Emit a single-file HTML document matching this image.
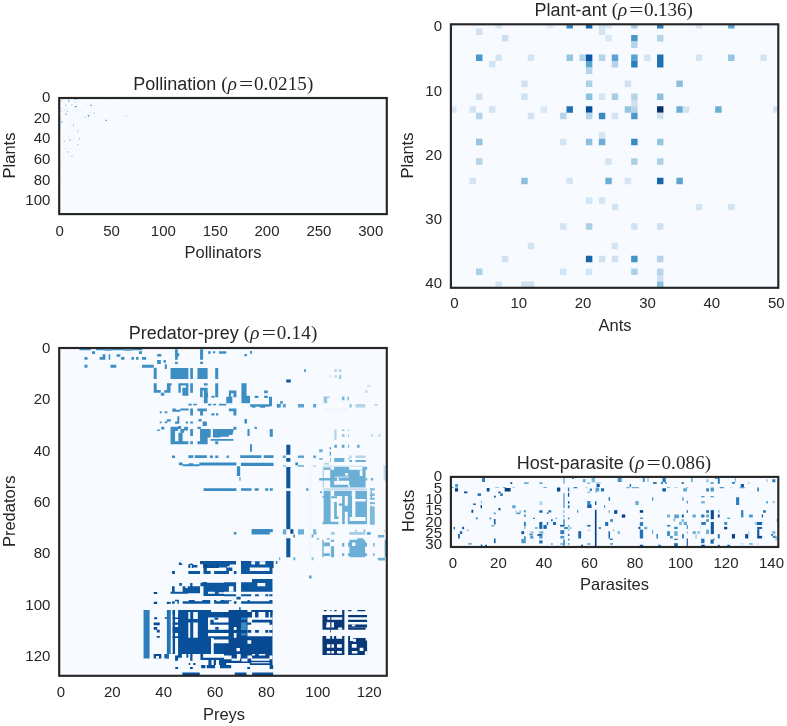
<!DOCTYPE html>
<html><head><meta charset="utf-8"><title>Network matrices</title>
<style>
html,body{margin:0;padding:0;background:#ffffff;}
body{width:787px;height:726px;overflow:hidden;}
svg{display:block;}
text{font-family:"Liberation Sans",sans-serif;fill:#262626;}
</style></head><body>
<svg width="787" height="726" viewBox="0 0 787 726">
<rect width="787" height="726" fill="#ffffff"/>
<clipPath id="cp1"><rect x="59.2" y="98.0" width="327.60" height="116.10"/></clipPath>
<rect x="59.2" y="98.0" width="327.60" height="116.10" fill="#f7fbff"/>
<g clip-path="url(#cp1)" shape-rendering="auto">
<path fill="#4a97c9" d="M67.95 100.13h1.42v1.42h-1.42z"/>
<path fill="#66aad4" d="M74.63 99.00h1.78v0.85h-1.78z"/>
<path fill="#99c7e0" d="M60.49 100.13h1.28v1.42h-1.28z"/>
<path fill="#4a97c9" d="M74.67 105.93h1.99v1.42h-1.99zM90.31 104.84h1.42v1.07h-1.42z"/>
<path fill="#a8cee4" d="M71.25 103.94h1.21v1.64h-1.21z"/>
<path fill="#88bedc" d="M65.37 104.81h1.28v0.93h-1.28z"/>
<path fill="#76b4d8" d="M66.85 110.94h1.07v1.07h-1.07z"/>
<path fill="#99c7e0" d="M61.01 110.94h0.85v1.07h-0.85z"/>
<path fill="#c3daee" d="M63.80 109.49h1.07v1.42h-1.07z"/>
<path fill="#58a1ce" d="M65.20 113.52h1.42v1.28h-1.42z"/>
<path fill="#4a97c9" d="M87.77 115.08h1.42v1.42h-1.42z"/>
<path fill="#a8cee4" d="M84.69 117.00h1.28v0.93h-1.28z"/>
<path fill="#c3daee" d="M93.40 112.33h1.64v1.42h-1.64z"/>
<path fill="#ddeaf7" d="M89.55 112.29h1.21v1.21h-1.21z"/>
<path fill="#4a97c9" d="M105.56 119.79h1.42v1.14h-1.42z"/>
<path fill="#58a1ce" d="M60.83 121.18h1.42v1.42h-1.42z"/>
<path fill="#4a97c9" d="M59.66 118.13h0.71v1.42h-0.71z"/>
<path fill="#66aad4" d="M59.66 107.45h0.71v1.42h-0.71z"/>
<path fill="#88bedc" d="M59.66 127.20h0.71v1.07h-0.71z"/>
<path fill="#66aad4" d="M72.95 124.49h1.07v1.21h-1.07z"/>
<path fill="#cddff1" d="M69.70 124.49h1.07v1.21h-1.07z"/>
<path fill="#c3daee" d="M77.31 129.26h1.00v3.56h-1.00zM125.35 115.35h1.28v1.28h-1.28z"/>
<path fill="#d5e5f4" d="M119.28 104.81h1.42v0.93h-1.42z"/>
<path fill="#ddeaf7" d="M129.01 120.01h1.78v0.71h-1.78z"/>
<path fill="#88bedc" d="M69.47 139.43h1.42v1.21h-1.42zM79.05 137.92h1.07v1.28h-1.07zM63.54 141.10h1.28v0.93h-1.28z"/>
<path fill="#99c7e0" d="M77.31 144.02h1.00v1.28h-1.00z"/>
<path fill="#d5e5f4" d="M68.16 135.95h1.00v1.57h-1.00z"/>
<path fill="#88bedc" d="M71.25 155.92h1.21v0.85h-1.21z"/>
<path fill="#c3daee" d="M67.23 151.60h1.42v1.07h-1.42z"/>
<path fill="#d5e5f4" d="M65.20 148.08h1.42v1.28h-1.42z"/>
<path fill="#c3daee" d="M77.53 100.48h1.07v1.14h-1.07zM74.52 102.05h1.28v0.85h-1.28z"/>
<path fill="#ddeaf7" d="M86.50 103.53h1.21v1.14h-1.21z"/>
<path fill="#e6f0f9" d="M95.82 103.53h1.07v1.14h-1.07zM115.14 103.53h1.07v1.14h-1.07z"/>
<path fill="#ddeaf7" d="M80.58 109.41h1.07v1.07h-1.07zM77.53 110.94h1.07v1.07h-1.07z"/>
<path fill="#e2eef8" d="M83.63 106.36h1.07v1.07h-1.07zM104.03 109.46h1.42v1.28h-1.42zM107.51 107.86h1.07v0.93h-1.07zM84.69 128.77h1.28v1.28h-1.28zM63.80 130.54h1.07v1.00h-1.07z"/>
<path fill="#e6f0f9" d="M69.39 113.65h1.07v0.93h-1.07z"/>
<path fill="#e2eef8" d="M114.71 125.85h1.42v0.93h-1.42zM131.40 134.82h1.07v1.07h-1.07z"/>
<path fill="#e6f0f9" d="M104.00 138.05h1.28v0.93h-1.28z"/>
<path fill="#e9f2fb" d="M89.25 145.50h1.21v1.07h-1.21zM97.93 145.50h1.42v1.07h-1.42z"/>
<path fill="#e6f0f9" d="M72.95 146.98h1.07v0.85h-1.07z"/>
<path fill="#e2eef8" d="M65.33 107.86h1.07v0.93h-1.07zM67.32 118.56h0.85v1.07h-0.85z"/>
<path fill="#a8cee4" d="M66.97 151.26h1.14v1.14h-1.14zM71.44 155.94h1.14v1.14h-1.14z"/>
<path fill="#c3daee" d="M61.22 163.46h0.85v1.14h-0.85z"/>
<path fill="#ddeaf7" d="M84.66 162.04h1.14v1.14h-1.14zM146.26 157.36h1.14v1.14h-1.14zM165.98 166.51h1.14v1.14h-1.14z"/>
<path fill="#e2eef8" d="M117.80 170.98h1.14v1.14h-1.14z"/>
<path fill="#ddeaf7" d="M61.22 181.70h0.85v0.85h-0.85z"/>
<path fill="#e2eef8" d="M71.44 160.82h1.14v1.14h-1.14zM63.72 157.56h1.14v1.14h-1.14z"/>
<path fill="#d5e5f4" d="M159.81 100.36h1.07v1.07h-1.07z"/>
<path fill="#ddeaf7" d="M149.60 107.68h1.07v1.07h-1.07zM145.02 133.60h1.07v1.07h-1.07z"/>
<path fill="#e6f0f9" d="M182.68 147.02h1.07v1.07h-1.07z"/>
<path fill="#e2eef8" d="M146.55 157.04h1.07v0.85h-1.07z"/>
</g>
<rect x="59.2" y="98.0" width="327.60" height="116.10" fill="none" stroke="#262626" stroke-width="2.15"/>
<clipPath id="cp2"><rect x="450.9" y="24.3" width="327.40" height="263.50"/></clipPath>
<rect x="450.9" y="24.3" width="327.40" height="263.50" fill="#f7fbff"/>
<g clip-path="url(#cp2)" shape-rendering="auto">
<path fill="#d9e8f5" d="M495.40 22.00h6.46v6.49h-6.46z"/>
<path fill="#dfecf7" d="M547.11 22.00h6.46v6.49h-6.46z"/>
<path fill="#3b8bc3" d="M566.50 22.00h6.46v6.49h-6.46z"/>
<path fill="#1764ab" d="M585.89 22.00h6.46v6.49h-6.46z"/>
<path fill="#d0e1f2" d="M598.82 22.00h6.46v6.49h-6.46z"/>
<path fill="#d9e8f5" d="M605.29 22.00h6.46v6.49h-6.46z"/>
<path fill="#a6cde4" d="M631.14 22.00h6.46v6.49h-6.46z"/>
<path fill="#2e7ebc" d="M657.00 22.00h6.46v6.49h-6.46z"/>
<path fill="#d9e8f5" d="M695.78 22.00h6.46v6.49h-6.46z"/>
<path fill="#5ba3d0" d="M728.10 22.00h6.46v6.49h-6.46z"/>
<path fill="#d0e1f2" d="M476.01 28.49h6.46v6.49h-6.46z"/>
<path fill="#d3e4f3" d="M598.82 28.49h6.46v6.49h-6.46z"/>
<path fill="#ccdff1" d="M501.86 34.98h6.46v6.49h-6.46z"/>
<path fill="#d9e8f5" d="M605.29 34.98h6.46v6.49h-6.46z"/>
<path fill="#4a98c9" d="M631.14 34.98h6.46v6.49h-6.46z"/>
<path fill="#b6d4e9" d="M657.00 34.98h6.46v6.49h-6.46zM631.14 41.47h6.46v6.49h-6.46z"/>
<path fill="#4a98c9" d="M476.01 54.45h6.46v6.49h-6.46z"/>
<path fill="#d3e4f3" d="M495.40 54.45h6.46v6.49h-6.46zM527.72 54.45h6.46v6.49h-6.46z"/>
<path fill="#94c4df" d="M566.50 54.45h6.46v6.49h-6.46z"/>
<path fill="#b6d4e9" d="M579.43 54.45h6.46v6.49h-6.46z"/>
<path fill="#0d57a1" d="M585.89 54.45h6.46v6.49h-6.46z"/>
<path fill="#b6d4e9" d="M598.82 54.45h6.46v6.49h-6.46z"/>
<path fill="#5ba3d0" d="M611.75 54.45h6.46v6.49h-6.46zM631.14 54.45h6.46v6.49h-6.46z"/>
<path fill="#d3e4f3" d="M644.07 54.45h6.46v6.49h-6.46z"/>
<path fill="#2171b5" d="M657.00 54.45h6.46v6.49h-6.46z"/>
<path fill="#d3e4f3" d="M695.78 54.45h6.46v6.49h-6.46z"/>
<path fill="#94c4df" d="M728.10 54.45h6.46v6.49h-6.46z"/>
<path fill="#d3e4f3" d="M760.42 54.45h6.46v6.49h-6.46zM488.93 60.94h6.46v6.49h-6.46z"/>
<path fill="#5ba3d0" d="M585.89 60.94h6.46v6.49h-6.46z"/>
<path fill="#b6d4e9" d="M611.75 60.94h6.46v6.49h-6.46z"/>
<path fill="#2e7ebc" d="M631.14 60.94h6.46v6.49h-6.46z"/>
<path fill="#2171b5" d="M657.00 60.94h6.46v6.49h-6.46z"/>
<path fill="#b6d4e9" d="M585.89 67.43h6.46v6.49h-6.46z"/>
<path fill="#d0e1f2" d="M521.25 80.41h6.46v6.49h-6.46z"/>
<path fill="#acd0e6" d="M585.89 80.41h6.46v6.49h-6.46z"/>
<path fill="#d0e1f2" d="M624.68 80.41h6.46v6.49h-6.46z"/>
<path fill="#8cc0dd" d="M676.39 80.41h6.46v6.49h-6.46z"/>
<path fill="#d0e1f2" d="M476.01 93.39h6.46v6.49h-6.46zM521.25 93.39h6.46v6.49h-6.46z"/>
<path fill="#8cc0dd" d="M585.89 93.39h6.46v6.49h-6.46z"/>
<path fill="#d3e4f3" d="M598.82 93.39h6.46v6.49h-6.46z"/>
<path fill="#a6cde4" d="M611.75 93.39h6.46v6.49h-6.46z"/>
<path fill="#b6d4e9" d="M631.14 93.39h6.46v6.49h-6.46z"/>
<path fill="#8cc0dd" d="M657.00 93.39h6.46v6.49h-6.46z"/>
<path fill="#d0e1f2" d="M631.14 99.88h6.46v6.49h-6.46z"/>
<path fill="#d9e8f5" d="M450.15 106.37h6.46v6.49h-6.46z"/>
<path fill="#d3e4f3" d="M469.54 106.37h6.46v6.49h-6.46zM488.93 106.37h6.46v6.49h-6.46z"/>
<path fill="#d9e8f5" d="M540.65 106.37h6.46v6.49h-6.46z"/>
<path fill="#2171b5" d="M566.50 106.37h6.46v6.49h-6.46z"/>
<path fill="#08509a" d="M585.89 106.37h6.46v6.49h-6.46z"/>
<path fill="#94c4df" d="M624.68 106.37h6.46v6.49h-6.46z"/>
<path fill="#b6d4e9" d="M631.14 106.37h6.46v6.49h-6.46z"/>
<path fill="#08306b" d="M657.00 106.37h6.46v6.49h-6.46z"/>
<path fill="#6baed6" d="M676.39 106.37h6.46v6.49h-6.46z"/>
<path fill="#d3e4f3" d="M682.85 106.37h6.46v6.49h-6.46z"/>
<path fill="#6baed6" d="M715.17 106.37h6.46v6.49h-6.46z"/>
<path fill="#d0e1f2" d="M773.35 106.37h6.46v6.49h-6.46z"/>
<path fill="#b6d4e9" d="M476.01 112.86h6.46v6.49h-6.46z"/>
<path fill="#d0e1f2" d="M527.72 112.86h6.46v6.49h-6.46z"/>
<path fill="#b6d4e9" d="M560.04 112.86h6.46v6.49h-6.46zM585.89 112.86h6.46v6.49h-6.46z"/>
<path fill="#3b8bc3" d="M598.82 112.86h6.46v6.49h-6.46z"/>
<path fill="#d3e4f3" d="M611.75 112.86h6.46v6.49h-6.46z"/>
<path fill="#4a98c9" d="M631.14 112.86h6.46v6.49h-6.46z"/>
<path fill="#d0e1f2" d="M657.00 112.86h6.46v6.49h-6.46z"/>
<path fill="#d3e4f3" d="M598.82 132.33h6.46v6.49h-6.46z"/>
<path fill="#94c4df" d="M476.01 138.82h6.46v6.49h-6.46z"/>
<path fill="#d3e4f3" d="M560.04 138.82h6.46v6.49h-6.46z"/>
<path fill="#8cc0dd" d="M585.89 138.82h6.46v6.49h-6.46z"/>
<path fill="#6baed6" d="M598.82 138.82h6.46v6.49h-6.46z"/>
<path fill="#3b8bc3" d="M631.14 138.82h6.46v6.49h-6.46z"/>
<path fill="#94c4df" d="M657.00 138.82h6.46v6.49h-6.46z"/>
<path fill="#b6d4e9" d="M476.01 158.29h6.46v6.49h-6.46z"/>
<path fill="#d3e4f3" d="M605.29 158.29h6.46v6.49h-6.46z"/>
<path fill="#acd0e6" d="M631.14 158.29h6.46v6.49h-6.46zM657.00 158.29h6.46v6.49h-6.46z"/>
<path fill="#d3e4f3" d="M469.54 177.76h6.46v6.49h-6.46z"/>
<path fill="#8cc0dd" d="M521.25 177.76h6.46v6.49h-6.46z"/>
<path fill="#d3e4f3" d="M566.50 177.76h6.46v6.49h-6.46z"/>
<path fill="#6baed6" d="M605.29 177.76h6.46v6.49h-6.46z"/>
<path fill="#d3e4f3" d="M624.68 177.76h6.46v6.49h-6.46z"/>
<path fill="#1764ab" d="M657.00 177.76h6.46v6.49h-6.46z"/>
<path fill="#5ba3d0" d="M676.39 177.76h6.46v6.49h-6.46z"/>
<path fill="#d3e4f3" d="M585.89 197.23h6.46v6.49h-6.46zM598.82 197.23h6.46v6.49h-6.46zM611.75 203.72h6.46v6.49h-6.46zM695.78 203.72h6.46v6.49h-6.46zM728.10 203.72h6.46v6.49h-6.46zM560.04 223.19h6.46v6.49h-6.46z"/>
<path fill="#acd0e6" d="M585.89 223.19h6.46v6.49h-6.46z"/>
<path fill="#d0e1f2" d="M631.14 223.19h6.46v6.49h-6.46zM657.00 223.19h6.46v6.49h-6.46z"/>
<path fill="#d3e4f3" d="M527.72 242.66h6.46v6.49h-6.46zM611.75 242.66h6.46v6.49h-6.46z"/>
<path fill="#d0e1f2" d="M501.86 255.64h6.46v6.49h-6.46z"/>
<path fill="#1764ab" d="M585.89 255.64h6.46v6.49h-6.46z"/>
<path fill="#d0e1f2" d="M598.82 255.64h6.46v6.49h-6.46zM611.75 255.64h6.46v6.49h-6.46z"/>
<path fill="#4493c7" d="M631.14 255.64h6.46v6.49h-6.46z"/>
<path fill="#b6d4e9" d="M657.00 255.64h6.46v6.49h-6.46z"/>
<path fill="#acd0e6" d="M476.01 268.62h6.46v6.49h-6.46z"/>
<path fill="#d3e4f3" d="M560.04 268.62h6.46v6.49h-6.46zM585.89 268.62h6.46v6.49h-6.46z"/>
<path fill="#acd0e6" d="M631.14 268.62h6.46v6.49h-6.46z"/>
<path fill="#b6d4e9" d="M657.00 268.62h6.46v6.49h-6.46z"/>
<path fill="#d0e1f2" d="M657.00 275.11h6.46v6.49h-6.46z"/>
<path fill="#d3e4f3" d="M495.40 281.60h6.46v6.49h-6.46z"/>
<path fill="#d0e1f2" d="M521.25 281.60h6.46v6.49h-6.46zM527.72 281.60h6.46v6.49h-6.46z"/>
<path fill="#8cc0dd" d="M657.00 281.60h6.46v6.49h-6.46z"/>
</g>
<rect x="450.9" y="24.3" width="327.40" height="263.50" fill="none" stroke="#262626" stroke-width="2.15"/>
<clipPath id="cp3"><rect x="59.2" y="348.0" width="327.60" height="327.80"/></clipPath>
<rect x="59.2" y="348.0" width="327.60" height="327.80" fill="#f7fbff"/>
<g clip-path="url(#cp3)" shape-rendering="auto">
<path fill="#3e8ec4" d="M79.45 348.61h11.36v1.52h-11.36zM96.12 348.61h8.33v1.52h-8.33zM104.45 349.21h6.82v1.52h-6.82zM111.27 348.61h12.88v1.52h-12.88zM124.15 349.21h7.58v1.52h-7.58zM131.73 348.61h10.61v1.52h-10.61zM92.03 351.33h3.03v2.73h-3.03zM139.00 351.33h3.03v2.73h-3.03zM157.18 354.06h4.09v2.42h-4.09zM84.45 357.09h3.03v2.73h-3.03zM99.61 357.09h3.03v2.73h-3.03zM102.64 354.36h2.73v5.45h-2.73zM108.70 354.36h1.52v5.45h-1.52zM116.58 354.36h3.79v2.42h-3.79zM121.12 357.09h3.33v2.73h-3.33zM131.42 357.09h2.58v2.73h-2.58zM135.97 357.09h2.58v2.73h-2.58zM142.03 357.09h4.09v2.73h-4.09zM157.18 360.12h3.64v3.79h-3.64zM163.55 360.12h2.27v2.73h-2.27zM84.45 364.67h3.03v3.03h-3.03zM110.52 364.67h5.76v3.03h-5.76zM142.03 364.67h11.67v3.03h-11.67zM153.70 367.70h3.03v11.36h-3.03zM164.76 364.36h2.12v4.55h-2.12zM153.70 383.15h3.03v9.55h-3.03zM156.73 390.12h4.09v2.58h-4.09zM160.82 392.70h3.48v3.03h-3.48zM164.30 390.12h4.70v2.58h-4.70zM166.88 383.15h2.12v7.27h-2.12zM159.76 411.33h1.82v1.82h-1.82zM164.76 411.33h2.58v1.82h-2.58zM159.76 421.48h1.82v1.82h-1.82zM164.76 421.48h2.58v1.82h-2.58zM166.88 419.21h2.12v2.27h-2.12zM161.27 426.79h3.03v2.73h-3.03zM157.18 429.52h2.58v1.52h-2.58zM175.06 349.21h2.73v10.61h-2.73zM177.33 353.30h1.97v3.03h-1.97zM175.06 361.64h2.73v2.27h-2.73zM200.06 349.21h3.03v10.61h-3.03zM200.06 361.64h3.03v2.27h-3.03zM208.09 351.33h2.58v2.42h-2.58zM212.94 351.33h2.27v1.97h-2.27zM219.00 351.33h7.27v2.42h-7.27zM244.45 354.06h2.58v2.27h-2.58zM250.06 351.03h1.97v2.73h-1.97zM170.52 368.00h17.88v11.06h-17.88zM190.21 368.00h2.73v11.06h-2.73zM197.48 368.00h10.15v11.06h-10.15zM215.21 368.00h3.03v11.06h-3.03zM169.00 383.15h2.73v2.42h-2.73zM169.00 385.58h1.52v7.12h-1.52zM178.39 383.15h2.42v9.55h-2.42zM180.82 383.15h7.58v2.42h-7.58zM182.33 387.70h6.06v8.03h-6.06zM185.97 385.58h2.42v2.12h-2.42zM190.21 383.15h2.73v9.55h-2.73zM203.85 383.15h3.79v2.42h-3.79zM200.06 387.70h7.58v2.73h-7.58zM200.06 390.42h2.58v6.82h-2.58zM203.85 390.42h3.79v12.88h-3.79zM206.12 392.70h1.97v4.55h-1.97zM215.21 383.15h3.03v14.09h-3.03zM211.42 395.73h3.03v1.97h-3.03zM228.85 390.42h7.58v2.73h-7.58zM233.39 393.15h3.03v4.09h-3.03zM226.27 396.79h6.06v6.52h-6.06zM228.85 393.15h2.27v4.09h-2.27zM241.42 383.15h5.15v20.15h-5.15zM246.58 395.73h3.48v7.58h-3.48zM254.61 395.73h3.79v2.27h-3.79zM264.15 390.42h3.64v2.73h-3.64zM264.15 395.73h3.64v2.27h-3.64zM269.00 396.79h3.03v9.55h-3.03zM250.06 404.36h19.70v2.42h-19.70zM252.03 406.33h3.33v1.52h-3.33zM259.91 406.33h5.30v1.52h-5.30zM276.88 404.06h2.12v3.79h-2.12zM188.39 403.76h3.33v1.82h-3.33zM193.24 403.76h3.79v1.52h-3.79zM208.09 403.76h3.33v1.82h-3.33zM212.94 403.76h3.03v1.52h-3.03zM219.00 403.76h7.27v1.82h-7.27zM172.33 408.61h3.48v3.03h-3.48zM175.82 409.82h4.55v1.82h-4.55zM180.36 408.61h8.33v1.82h-8.33zM190.21 408.61h2.73v6.82h-2.73zM197.48 408.61h9.39v2.73h-9.39zM200.06 411.33h3.03v4.09h-3.03zM211.42 413.15h3.03v2.27h-3.03zM215.97 413.15h2.27v2.27h-2.27zM228.85 408.61h7.58v2.73h-7.58zM233.39 411.33h3.03v4.09h-3.03zM169.00 419.21h1.82v2.27h-1.82zM177.33 416.18h1.97v7.58h-1.97zM175.06 421.48h2.27v2.27h-2.27zM185.67 421.48h2.27v1.97h-2.27zM190.21 421.48h2.73v1.97h-2.73zM198.55 418.91h3.03v2.58h-3.03zM202.64 421.48h4.24v4.55h-4.24zM244.45 418.91h2.58v4.55h-2.58zM170.52 426.79h4.55v17.42h-4.55zM175.06 426.79h3.03v4.24h-3.03zM178.09 426.03h3.03v3.03h-3.03zM180.36 429.06h3.79v3.79h-3.79zM184.15 426.79h3.79v3.79h-3.79zM178.39 432.85h4.24v9.09h-4.24zM170.52 441.18h17.88v3.03h-17.88zM190.21 429.06h2.73v6.82h-2.73zM190.21 441.18h2.73v3.03h-2.73zM197.48 426.79h3.33v2.27h-3.33zM200.06 429.06h7.58v12.12h-7.58zM197.48 441.18h10.15v3.03h-10.15zM207.64 429.06h3.03v8.33h-3.03zM212.94 429.06h7.58v8.33h-7.58zM220.52 429.06h12.88v3.79h-12.88zM220.52 432.85h8.33v3.79h-8.33zM228.85 432.85h3.79v2.27h-3.79zM233.39 426.79h3.03v3.03h-3.03zM210.67 438.91h22.73v1.82h-22.73zM215.21 441.18h3.03v3.03h-3.03zM247.48 429.06h2.12v6.82h-2.12zM254.61 426.79h2.27v2.27h-2.27zM269.76 429.06h3.03v7.58h-3.03zM250.06 444.21h1.97v7.58h-1.97zM172.03 455.58h3.03v2.42h-3.03zM188.39 455.27h4.85v2.73h-4.85zM194.76 455.27h12.12v2.73h-12.12zM209.91 455.58h3.03v2.42h-3.03zM215.21 455.58h3.03v2.42h-3.03zM226.58 455.58h2.27v2.42h-2.27zM240.21 455.27h21.21v2.73h-21.21zM263.70 455.27h9.85v2.73h-9.85z"/>
<path fill="#5ba3d0" d="M304.00 369.21h1.97v2.73h-1.97z"/>
<path fill="#b6d4e9" d="M334.30 369.21h2.58v2.73h-2.58zM338.85 369.21h2.58v2.73h-2.58zM329.76 375.27h1.06v2.27h-1.06zM334.30 375.27h2.58v2.27h-2.58z"/>
<path fill="#a6cde4" d="M338.85 374.97h2.58v4.09h-2.58z"/>
<path fill="#0d57a1" d="M286.27 379.52h4.55v3.03h-4.55z"/>
<path fill="#b6d4e9" d="M367.18 385.58h3.48v1.21h-3.48z"/>
<path fill="#94c4df" d="M365.67 390.42h1.52v2.27h-1.52zM323.70 396.48h3.48v6.82h-3.48z"/>
<path fill="#a6cde4" d="M327.18 396.48h2.58v1.52h-2.58z"/>
<path fill="#7fb9da" d="M341.88 396.48h2.58v3.79h-2.58zM347.48 396.48h1.52v3.79h-1.52z"/>
<path fill="#4a98c9" d="M280.21 401.03h2.58v2.73h-2.58zM279.00 403.76h1.82v3.64h-1.82z"/>
<path fill="#5ba3d0" d="M282.79 404.06h3.03v3.33h-3.03zM297.94 404.06h6.06v3.33h-6.06zM313.09 404.06h3.03v3.33h-3.03z"/>
<path fill="#94c4df" d="M349.45 404.06h2.27v3.33h-2.27z"/>
<path fill="#b6d4e9" d="M355.52 404.06h9.85v3.33h-9.85zM374.45 404.06h3.33v1.52h-3.33z"/>
<path fill="#eff6fc" d="M323.70 408.61h25.00v2.27h-25.00z"/>
<path fill="#b6d4e9" d="M334.30 429.52h2.27v10.15h-2.27z"/>
<path fill="#94c4df" d="M341.88 429.52h2.58v1.52h-2.58zM347.94 429.52h1.06v1.52h-1.06zM341.88 434.36h2.58v2.27h-2.58zM347.94 434.36h1.06v2.27h-1.06z"/>
<path fill="#c6dbef" d="M370.67 434.36h2.27v2.27h-2.27zM378.24 434.36h2.58v2.27h-2.58z"/>
<path fill="#0d57a1" d="M286.27 444.67h4.09v10.15h-4.09z"/>
<path fill="#5ba3d0" d="M334.30 444.67h2.58v3.03h-2.58zM341.88 444.67h2.58v3.03h-2.58z"/>
<path fill="#6baed6" d="M347.94 444.67h1.06v3.03h-1.06zM357.03 444.67h2.58v3.03h-2.58zM319.15 449.21h3.48v3.03h-3.48z"/>
<path fill="#1764ab" d="M329.76 447.24h1.06v1.97h-1.06z"/>
<path fill="#2e7ebc" d="M329.76 451.79h1.06v3.79h-1.06z"/>
<path fill="#5ba3d0" d="M282.79 455.58h3.03v2.42h-3.03zM297.94 455.58h6.06v2.42h-6.06z"/>
<path fill="#6baed6" d="M313.09 455.58h3.03v2.42h-3.03z"/>
<path fill="#a6cde4" d="M349.45 455.58h2.27v2.42h-2.27z"/>
<path fill="#b6d4e9" d="M355.52 455.58h9.85v2.42h-9.85z"/>
<path fill="#3b8bc3" d="M178.85 462.55h3.79v2.73h-3.79zM182.64 464.36h16.67v1.82h-16.67zM188.70 463.30h4.55v1.52h-4.55zM199.30 462.55h37.12v3.03h-37.12zM240.97 462.85h32.58v3.03h-32.58zM236.88 466.33h3.33v9.55h-3.33zM239.45 476.94h1.06v3.79h-1.06zM203.55 488.30h32.88v2.73h-32.88zM240.97 488.30h10.61v2.42h-10.61zM254.61 488.30h4.09v2.42h-4.09zM265.21 488.30h3.03v2.42h-3.03zM269.76 488.30h3.03v2.42h-3.03zM251.58 528.91h21.21v3.33h-21.21zM251.58 532.24h18.18v2.27h-18.18zM233.85 531.94h2.58v2.58h-2.58z"/>
<path fill="#084a92" d="M200.06 561.03h35.61v3.03h-35.61zM240.97 561.03h12.88v3.03h-12.88zM255.36 562.55h9.09v5.45h-9.09zM265.97 561.03h7.58v6.97h-7.58zM203.09 564.06h15.91v3.94h-15.91zM220.52 562.55h9.09v3.79h-9.09zM240.97 564.06h14.39v3.94h-14.39z"/>
<path fill="#2e7ebc" d="M275.82 561.03h1.52v3.03h-1.52z"/>
<path fill="#084a92" d="M178.85 562.55h2.27v2.27h-2.27z"/>
<path fill="#0d57a1" d="M188.70 564.06h1.52v3.94h-1.52zM191.73 564.06h1.52v3.94h-1.52zM286.27 458.00h4.09v3.79h-4.09zM286.27 467.09h4.09v21.21h-4.09zM286.27 491.03h4.09v38.18h-4.09z"/>
<path fill="#084a92" d="M290.36 529.21h3.03v4.55h-3.03z"/>
<path fill="#0d57a1" d="M286.27 538.30h4.09v18.94h-4.09z"/>
<path fill="#6baed6" d="M282.79 529.21h3.48v5.30h-3.48zM297.94 529.21h6.06v5.30h-6.06z"/>
<path fill="#7fb9da" d="M313.09 529.21h3.03v5.30h-3.03z"/>
<path fill="#2e7ebc" d="M295.36 462.55h2.58v2.73h-2.58z"/>
<path fill="#6baed6" d="M297.94 465.27h6.06v1.52h-6.06z"/>
<path fill="#94c4df" d="M282.79 465.27h3.48v1.52h-3.48z"/>
<path fill="#b6d4e9" d="M313.09 465.27h3.03v1.52h-3.03z"/>
<path fill="#5ba3d0" d="M305.97 488.30h2.58v2.42h-2.58z"/>
<path fill="#2e7ebc" d="M293.39 534.52h1.52v3.03h-1.52z"/>
<path fill="#6baed6" d="M311.58 534.52h1.97v3.03h-1.97zM279.00 557.24h1.21v3.03h-1.21zM293.39 557.24h1.97v3.03h-1.97z"/>
<path fill="#94c4df" d="M311.58 557.24h1.97v3.03h-1.97z"/>
<path fill="#edf5fc" d="M309.30 467.09h1.82v90.91h-1.82z"/>
<path fill="#94c4df" d="M319.61 458.00h3.33v1.82h-3.33z"/>
<path fill="#6baed6" d="M319.15 458.36h2.76v1.18h-2.76zM330.18 458.36h0.79v3.55h-0.79zM334.28 457.97h10.08v3.94h-10.08zM348.30 457.97h1.18v1.58h-1.18z"/>
<path fill="#5ba3d0" d="M349.48 459.94h2.36v1.97h-2.36z"/>
<path fill="#6baed6" d="M355.39 459.94h10.40v1.97h-10.40z"/>
<path fill="#b6d4e9" d="M355.39 456.00h10.40v1.58h-10.40z"/>
<path fill="#c6dbef" d="M349.88 456.00h1.58v1.18h-1.58z"/>
<path fill="#b6d4e9" d="M323.88 462.70h5.12v1.97h-5.12z"/>
<path fill="#c6dbef" d="M322.70 465.85h43.72v1.02h-43.72z"/>
<path fill="#6baed6" d="M323.88 467.42h6.70v2.36h-6.70zM334.12 467.03h14.97v3.15h-14.97zM362.48 467.03h4.73v2.76h-4.73zM330.18 469.79h35.45v17.73h-35.45z"/>
<path fill="#f7fbff" d="M345.15 472.94h2.76v2.76h-2.76zM359.72 470.18h2.76v5.91h-2.76z"/>
<path fill="#c6dbef" d="M334.51 476.48h14.57v1.18h-14.57z"/>
<path fill="#f7fbff" d="M336.88 478.06h1.97v2.52h-1.97zM334.12 480.82h14.97v3.94h-14.97zM348.30 484.75h1.58v2.76h-1.58z"/>
<path fill="#a6cde4" d="M322.70 467.03h1.18v20.48h-1.18z"/>
<path fill="#6baed6" d="M319.15 478.06h17.73v2.52h-17.73zM365.63 478.06h1.58v2.36h-1.58zM370.75 478.06h2.36v2.36h-2.36z"/>
<path fill="#b6d4e9" d="M323.88 488.69h5.12v1.58h-5.12z"/>
<path fill="#c6dbef" d="M322.70 489.48h43.72v0.95h-43.72zM322.64 488.33h44.30v1.32h-44.30z"/>
<path fill="#6baed6" d="M323.64 490.98h6.94v33.39h-6.94zM322.64 521.72h15.87v2.64h-15.87zM334.21 490.98h17.52v4.96h-17.52zM331.24 496.26h5.95v1.98h-5.95zM334.21 501.88h2.64v17.19h-2.64zM336.86 516.43h1.65v2.64h-1.65zM338.84 503.54h3.31v2.31h-3.31zM342.15 490.98h2.64v33.39h-2.64zM344.79 505.85h2.98v5.95h-2.98zM347.77 495.93h4.30v21.16h-4.30zM347.77 517.09h1.98v7.27h-1.98zM355.37 490.98h11.57v7.93h-11.57zM355.37 501.55h11.57v15.54h-11.57zM365.62 498.91h1.32v22.15h-1.32zM348.10 521.06h18.84v3.31h-18.84zM370.58 490.98h1.39v2.31h-1.39zM370.58 495.93h1.39v1.98h-1.39zM370.58 501.88h1.39v1.65h-1.39zM370.58 505.85h1.39v13.22h-1.39zM320.00 491.31h1.98v1.98h-1.98zM322.64 495.93h0.99v1.98h-0.99z"/>
<path fill="#94c4df" d="M331.24 531.97h2.98v2.64h-2.98z"/>
<path fill="#a6cde4" d="M349.42 531.97h16.20v2.31h-16.20z"/>
<path fill="#b6d4e9" d="M355.04 529.32h1.65v2.64h-1.65zM362.98 529.32h2.64v2.64h-2.64z"/>
<path fill="#5ba3d0" d="M367.27 531.97h3.31v2.64h-3.31z"/>
<path fill="#a6cde4" d="M331.30 532.32h3.25v2.32h-3.25zM349.39 532.32h15.77v2.32h-15.77z"/>
<path fill="#b6d4e9" d="M354.96 530.00h2.32v2.32h-2.32zM363.31 530.00h2.32v2.32h-2.32z"/>
<path fill="#5ba3d0" d="M367.02 532.32h3.25v2.32h-3.25z"/>
<path fill="#b6d4e9" d="M316.00 531.86h0.93v2.78h-0.93z"/>
<path fill="#94c4df" d="M384.18 530.00h0.93v1.86h-0.93z"/>
<path fill="#6baed6" d="M316.46 538.16h2.78v1.30h-2.78zM326.67 538.16h3.25v1.30h-3.25zM377.96 535.10h6.21v2.50h-6.21z"/>
<path fill="#94c4df" d="M322.03 539.74h1.86v17.62h-1.86z"/>
<path fill="#6baed6" d="M323.42 542.52h6.49v3.71h-6.49zM323.42 553.19h6.49v2.78h-6.49zM330.84 539.74h3.25v2.13h-3.25zM330.84 546.23h3.25v11.13h-3.25zM341.97 542.99h2.32v3.52h-2.32zM341.97 553.19h2.32v2.78h-2.32zM349.39 539.74h15.77v17.62h-15.77zM357.28 538.16h6.03v1.58h-6.03zM348.00 542.52h1.39v3.99h-1.39zM365.16 542.52h1.86v3.99h-1.86zM348.00 553.19h1.39v2.78h-1.39zM365.16 553.19h1.86v2.78h-1.86z"/>
<path fill="#f7fbff" d="M351.99 542.52h3.43v3.43h-3.43z"/>
<path fill="#7fb9da" d="M373.05 542.99h1.58v3.52h-1.58zM373.05 553.19h1.58v2.78h-1.58z"/>
<path fill="#6baed6" d="M377.96 557.83h7.14v2.78h-7.14zM384.64 539.74h1.39v17.62h-1.39z"/>
<path fill="#7fb9da" d="M369.91 488.30h4.85v2.27h-4.85zM369.91 493.15h4.85v2.73h-4.85zM369.91 497.70h4.85v1.97h-4.85zM369.91 501.94h4.85v2.27h-4.85zM369.91 506.48h4.85v18.18h-4.85z"/>
<path fill="#c6dbef" d="M383.55 465.58h2.27v15.15h-2.27z"/>
<path fill="#2e7ebc" d="M143.55 610.12h6.06v48.48h-6.06z"/>
<path fill="#084a92" d="M153.70 591.94h3.48v2.12h-3.48zM153.70 601.64h3.48v2.42h-3.48zM166.88 601.64h2.12v2.42h-2.12zM154.15 617.24h3.03v1.97h-3.03zM164.76 617.24h4.24v1.52h-4.24zM153.70 622.55h6.06v2.73h-6.06zM153.70 627.09h3.48v2.73h-3.48zM156.73 629.82h3.03v2.58h-3.03zM156.73 635.88h3.03v1.82h-3.03zM153.70 654.06h7.58v4.55h-7.58z"/>
<path fill="#f7fbff" d="M155.97 655.88h3.03v2.73h-3.03z"/>
<path fill="#1764ab" d="M164.30 654.06h4.70v4.55h-4.70z"/>
<path fill="#2171b5" d="M166.88 610.12h2.12v48.48h-2.12z"/>
<path fill="#0d57a1" d="M179.23 563.41h3.03v1.52h-3.03zM188.32 564.92h1.89v2.65h-1.89zM190.21 563.41h2.27v1.52h-2.27zM192.48 564.92h4.92v2.65h-4.92zM200.44 561.14h23.56v3.03h-23.56zM207.64 564.17h2.65v3.41h-2.65zM213.70 564.17h1.89v3.41h-1.89zM218.24 564.17h5.76v3.41h-5.76zM203.47 567.58h3.41v3.79h-3.41zM172.03 570.98h2.88v3.03h-2.88zM188.32 570.98h11.74v3.03h-11.74zM203.47 570.98h7.20v3.03h-7.20zM214.08 570.98h9.92v3.03h-9.92zM179.23 583.11h2.65v2.65h-2.65zM190.21 583.11h2.27v3.03h-2.27zM172.03 586.14h2.65v5.68h-2.65zM170.52 591.82h17.42v1.89h-17.42zM182.64 586.14h17.42v7.20h-17.42z"/>
<path fill="#f7fbff" d="M185.29 586.14h2.65v1.89h-2.65z"/>
<path fill="#0d57a1" d="M200.44 582.73h23.56v3.41h-23.56zM202.33 581.97h4.55v1.52h-4.55zM203.47 586.14h20.53v9.85h-20.53z"/>
<path fill="#f7fbff" d="M208.02 591.82h6.82v1.89h-6.82zM218.62 592.20h5.38v1.52h-5.38z"/>
<path fill="#0d57a1" d="M169.00 602.05h1.89v1.74h-1.89zM172.03 601.29h2.65v2.50h-2.65zM174.91 599.77h3.94v1.52h-3.94zM177.33 601.29h1.52v2.50h-1.52zM182.64 601.29h7.58v2.50h-7.58zM188.70 600.00h6.06v2.42h-6.06zM190.21 601.29h20.08v2.50h-20.08zM202.33 600.00h7.95v3.79h-7.95zM214.08 600.00h2.27v3.79h-2.27zM216.35 601.29h7.65v2.50h-7.65zM220.52 600.00h3.48v1.29h-3.48zM169.00 610.00h1.89v5.00h-1.89zM172.03 610.00h2.65v5.00h-2.65zM178.09 610.00h32.58v5.00h-32.58z"/>
<path fill="#f7fbff" d="M187.94 611.89h1.89v3.11h-1.89zM192.48 611.89h4.92v3.11h-4.92z"/>
<path fill="#0d57a1" d="M210.67 611.89h13.33v3.11h-13.33zM224.00 561.14h12.12v3.41h-12.12zM224.00 564.55h3.03v3.03h-3.03zM226.27 567.58h6.06v3.41h-6.06zM224.00 570.98h4.92v3.03h-4.92zM233.85 570.98h2.65v3.03h-2.65zM241.05 561.14h31.44v12.88h-31.44z"/>
<path fill="#f7fbff" d="M251.27 561.14h3.79v3.41h-3.79zM259.61 561.14h5.68v3.41h-5.68zM249.76 567.58h19.70v3.41h-19.70z"/>
<path fill="#0d57a1" d="M224.00 582.35h12.12v9.47h-12.12z"/>
<path fill="#f7fbff" d="M228.92 586.14h4.55v5.68h-4.55z"/>
<path fill="#0d57a1" d="M252.03 578.94h20.45v3.79h-20.45zM241.05 582.35h31.44v9.47h-31.44z"/>
<path fill="#f7fbff" d="M257.33 583.11h7.95v3.03h-7.95z"/>
<path fill="#0d57a1" d="M224.00 594.24h12.12v2.12h-12.12zM241.05 594.24h10.23v2.12h-10.23zM255.06 594.24h3.79v2.12h-3.79zM265.29 594.24h3.03v2.12h-3.03zM269.30 594.24h3.18v2.12h-3.18zM236.50 596.74h4.17v2.65h-4.17zM224.00 600.15h7.58v1.14h-7.58zM224.00 601.29h4.92v2.50h-4.92zM233.85 601.29h2.65v2.50h-2.65zM241.05 601.29h31.44v2.50h-31.44zM247.48 600.00h2.27v1.29h-2.27zM269.30 600.00h3.18v1.29h-3.18zM224.00 611.52h4.55v3.48h-4.55zM228.55 610.00h18.94v5.00h-18.94zM239.15 607.35h1.52v2.65h-1.52zM247.48 611.52h3.79v3.48h-3.79zM252.03 610.00h20.45v5.00h-20.45z"/>
<path fill="#f7fbff" d="M257.33 612.27h2.27v2.73h-2.27zM268.32 611.89h1.89v3.11h-1.89z"/>
<path fill="#2e7ebc" d="M169.00 610.00h1.89v43.94h-1.89z"/>
<path fill="#08509a" d="M172.41 610.00h51.59v43.94h-51.59z"/>
<path fill="#f7fbff" d="M175.06 610.00h3.03v7.58h-3.03zM175.06 619.09h3.03v3.41h-3.03zM175.06 624.77h3.03v2.27h-3.03zM175.06 633.11h3.03v3.03h-3.03zM175.06 638.03h3.03v15.91h-3.03zM170.89 610.00h1.52v7.58h-1.52zM170.89 619.09h1.52v3.41h-1.52zM170.89 624.77h1.52v2.27h-1.52zM170.89 633.11h1.52v3.03h-1.52zM170.89 638.03h1.52v15.15h-1.52zM188.32 611.89h1.89v7.20h-1.89zM193.24 611.89h4.55v7.20h-4.55zM188.32 622.50h1.89v15.15h-1.89zM193.24 622.50h4.55v15.15h-4.55zM211.05 610.00h12.95v1.89h-12.95zM208.02 617.58h15.98v12.12h-15.98z"/>
<path fill="#08509a" d="M210.29 619.85h3.41v4.92h-3.41zM213.70 622.50h10.30v2.27h-10.30zM214.45 617.58h3.79v2.27h-3.79zM215.21 627.05h3.41v2.65h-3.41z"/>
<path fill="#f7fbff" d="M208.02 633.11h15.98v3.03h-15.98zM211.05 638.03h2.65v15.91h-2.65zM213.70 639.55h10.30v3.79h-10.30z"/>
<path fill="#08509a" d="M175.06 655.45h3.03v5.30h-3.03zM178.09 653.94h3.79v3.79h-3.79zM186.42 653.94h1.89v3.79h-1.89zM190.21 653.94h2.27v6.82h-2.27zM200.44 653.94h2.65v6.06h-2.65zM203.09 657.73h20.91v2.27h-20.91zM208.39 659.24h3.03v5.76h-3.03zM213.70 659.24h2.27v5.76h-2.27zM219.00 659.24h5.00v5.76h-5.00zM188.70 663.03h1.52v1.97h-1.52zM193.24 663.03h2.27v1.97h-2.27z"/>
<path fill="#084a92" d="M224.00 610.00h48.48v55.00h-48.48z"/>
<path fill="#f7fbff" d="M224.00 610.00h4.55v1.89h-4.55zM224.00 617.58h4.55v4.92h-4.55zM224.00 624.77h4.55v4.92h-4.55zM224.00 633.11h4.55v3.03h-4.55zM224.00 639.55h4.55v3.79h-4.55zM224.00 655.45h7.58v3.79h-7.58zM226.27 663.03h23.48v1.97h-23.48zM247.48 610.00h3.79v1.89h-3.79zM252.03 611.89h3.03v5.68h-3.03zM258.47 611.89h6.82v5.68h-6.82zM268.70 611.89h1.52v5.68h-1.52zM247.48 617.58h4.55v4.92h-4.55zM252.03 617.58h20.45v2.27h-20.45zM247.48 624.77h25.00v11.36h-25.00zM251.27 622.50h18.18v2.27h-18.18z"/>
<path fill="#084a92" d="M255.06 630.08h3.79v2.65h-3.79zM265.29 630.08h3.03v2.65h-3.03zM269.30 630.08h3.18v2.65h-3.18zM247.48 630.08h3.79v2.65h-3.79z"/>
<path fill="#f7fbff" d="M233.85 627.05h2.65v3.03h-2.65zM233.85 633.11h2.65v4.55h-2.65z"/>
<path fill="#2e7ebc" d="M241.05 617.58h5.68v2.27h-5.68z"/>
<path fill="#3b8bc3" d="M241.05 622.50h5.68v7.58h-5.68z"/>
<path fill="#2e7ebc" d="M241.05 633.11h5.68v2.65h-5.68z"/>
<path fill="#f7fbff" d="M247.48 640.30h3.79v3.41h-3.79zM236.50 647.88h3.41v3.41h-3.41zM236.88 653.94h3.79v4.55h-3.79zM231.58 658.48h8.33v2.27h-8.33zM241.42 658.48h6.06v3.03h-6.06zM247.48 655.45h4.55v3.03h-4.55zM251.27 658.48h18.18v2.27h-18.18zM252.03 653.94h3.03v1.52h-3.03zM258.85 653.94h6.44v1.52h-6.44zM269.45 655.45h3.03v3.79h-3.03zM251.27 662.27h18.18v0.91h-18.18z"/>
<path fill="#08509a" d="M201.15 664.92h4.19v3.35h-4.19zM206.74 664.92h8.39v3.35h-8.39zM220.02 664.92h11.18v3.35h-11.18zM269.64 664.92h3.49v4.05h-3.49zM247.27 666.88h2.80v2.10h-2.80zM175.29 666.88h2.80v2.10h-2.80zM189.97 666.88h2.80v2.10h-2.80zM182.28 672.47h17.47v2.94h-17.47zM234.69 672.47h11.88v2.94h-11.88zM252.16 672.47h20.97v2.94h-20.97z"/>
<path fill="#083877" d="M323.95 610.09h2.60v1.26h-2.60zM330.27 610.09h1.12v1.26h-1.12zM334.36 610.09h2.23v1.26h-2.23zM342.17 610.09h2.23v4.83h-2.23zM322.46 614.93h21.94v14.88h-21.94z"/>
<path fill="#f7fbff" d="M327.30 617.16h2.98v2.60h-2.98zM331.39 617.16h10.79v2.60h-10.79zM326.55 622.36h3.72v2.60h-3.72zM331.39 622.36h2.60v2.60h-2.60zM326.18 624.97h4.09v2.60h-4.09zM331.39 624.97h2.60v2.60h-2.60zM338.08 627.57h4.09v2.23h-4.09z"/>
<path fill="#083877" d="M330.27 629.80h0.74v2.60h-0.74zM348.12 610.09h3.35v1.26h-3.35zM357.42 610.09h7.81v1.26h-7.81zM348.12 614.93h18.97v2.23h-18.97zM348.12 619.76h18.97v2.23h-18.97zM348.12 624.60h18.97v2.98h-18.97z"/>
<path fill="#f7fbff" d="M351.84 624.60h3.35v1.64h-3.35z"/>
<path fill="#083877" d="M348.12 627.57h17.48v2.23h-17.48zM322.46 636.12h21.94v18.97h-21.94z"/>
<path fill="#f7fbff" d="M326.18 636.12h4.09v2.60h-4.09zM332.13 636.12h1.86v2.60h-1.86zM336.22 636.12h5.95v2.60h-5.95zM326.93 644.31h3.35v3.35h-3.35zM331.39 644.31h2.60v3.35h-2.60zM336.97 644.31h4.83v3.35h-4.83zM326.93 651.00h3.35v2.60h-3.35zM331.39 651.00h2.60v2.60h-2.60zM336.97 651.00h4.83v2.60h-4.83z"/>
<path fill="#083877" d="M348.12 636.12h1.86v18.97h-1.86zM348.12 637.98h18.97v17.11h-18.97z"/>
<path fill="#f7fbff" d="M349.98 637.98h2.98v2.98h-2.98zM352.96 638.73h2.98v2.98h-2.98zM351.84 643.93h4.83v3.72h-4.83zM351.84 651.00h5.58v2.60h-5.58zM359.65 647.65h3.72v3.35h-3.72zM364.86 651.37h2.23v3.72h-2.23zM365.60 637.98h1.49v2.60h-1.49z"/>
<path fill="#5ba3d0" d="M309.00 575.58h2.58v3.03h-2.58z"/>
</g>
<rect x="59.2" y="348.0" width="327.60" height="327.80" fill="none" stroke="#262626" stroke-width="2.15"/>
<clipPath id="cp4"><rect x="450.9" y="476.9" width="327.40" height="70.10"/></clipPath>
<rect x="450.9" y="476.9" width="327.40" height="70.10" fill="#f7fbff"/>
<g clip-path="url(#cp4)" shape-rendering="auto">
<path fill="#2e7ebc" d="M482.05 478.04h2.92v3.96h-2.92z"/>
<path fill="#084a92" d="M510.39 482.21h1.88v1.88h-1.88z"/>
<path fill="#6baed6" d="M523.94 482.21h4.69v1.67h-4.69z"/>
<path fill="#4a98c9" d="M455.17 484.09h2.92v3.33h-2.92zM451.00 486.90h2.60v1.04h-2.60z"/>
<path fill="#083d7f" d="M454.96 488.25h3.13v3.13h-3.13z"/>
<path fill="#084a92" d="M486.74 487.94h2.81v3.65h-2.81z"/>
<path fill="#94c4df" d="M495.28 486.90h3.44v1.15h-3.44z"/>
<path fill="#6baed6" d="M503.10 486.90h3.13v1.15h-3.13z"/>
<path fill="#083d7f" d="M504.66 488.04h5.94v3.54h-5.94z"/>
<path fill="#b6d4e9" d="M511.95 486.90h3.13v1.15h-3.13z"/>
<path fill="#084a92" d="M464.02 491.59h3.44v1.56h-3.44zM498.41 491.59h2.08v1.56h-2.08z"/>
<path fill="#2e7ebc" d="M477.57 493.15h3.44v2.81h-3.44zM500.18 493.15h2.71v2.81h-2.71z"/>
<path fill="#0d57a1" d="M493.93 495.75h1.88v1.67h-1.88z"/>
<path fill="#6baed6" d="M480.80 500.96h1.04v2.29h-1.04z"/>
<path fill="#2171b5" d="M473.09 503.57h2.92v1.35h-2.92z"/>
<path fill="#084a92" d="M480.59 504.92h1.35v3.33h-1.35z"/>
<path fill="#5ba3d0" d="M512.27 505.13h3.33v3.13h-3.33z"/>
<path fill="#084a92" d="M498.41 508.05h2.08v2.08h-2.08zM471.42 509.82h1.88v2.92h-1.88z"/>
<path fill="#94c4df" d="M515.60 510.34h1.25v2.60h-1.25z"/>
<path fill="#4a98c9" d="M516.43 512.63h3.86v1.46h-3.86z"/>
<path fill="#94c4df" d="M519.25 510.34h1.77v2.60h-1.77z"/>
<path fill="#4a98c9" d="M523.94 510.13h1.88v2.29h-1.88z"/>
<path fill="#5ba3d0" d="M523.94 514.51h1.88v2.60h-1.88zM493.72 512.43h2.08v1.88h-2.08z"/>
<path fill="#3b8bc3" d="M475.80 517.43h2.08v1.77h-2.08z"/>
<path fill="#4a98c9" d="M489.34 517.43h1.88v1.77h-1.88z"/>
<path fill="#1764ab" d="M493.93 518.99h1.67v5.42h-1.67z"/>
<path fill="#6baed6" d="M491.22 524.93h3.02v1.67h-3.02z"/>
<path fill="#2e7ebc" d="M523.94 521.80h1.88v4.69h-1.88z"/>
<path fill="#94c4df" d="M523.94 526.49h1.88v2.40h-1.88z"/>
<path fill="#0d57a1" d="M453.71 527.01h1.25v2.29h-1.25zM462.25 526.80h1.88v2.50h-1.88z"/>
<path fill="#94c4df" d="M466.84 529.30h1.88v1.67h-1.88z"/>
<path fill="#1764ab" d="M459.86 531.18h2.40v2.92h-2.40zM458.09 534.10h1.77v4.38h-1.77z"/>
<path fill="#0d57a1" d="M521.33 531.18h2.81v2.92h-2.81z"/>
<path fill="#a6cde4" d="M530.19 531.18h2.81v2.60h-2.81z"/>
<path fill="#4a98c9" d="M529.14 533.79h3.86v1.56h-3.86zM530.19 535.87h2.81v2.60h-2.81zM523.94 536.18h1.88v2.81h-1.88zM521.33 538.99h4.48v4.17h-4.48z"/>
<path fill="#1764ab" d="M493.93 538.47h1.67v4.69h-1.67z"/>
<path fill="#4a98c9" d="M468.19 543.16h3.65v1.35h-3.65z"/>
<path fill="#0d57a1" d="M480.80 544.52h1.46v1.77h-1.46z"/>
<path fill="#1764ab" d="M484.86 544.73h2.08v1.56h-2.08z"/>
<path fill="#7fb9da" d="M563.22 478.04h1.56v5.73h-1.56z"/>
<path fill="#6baed6" d="M563.22 493.15h1.56v15.11h-1.56zM563.22 510.34h1.04v2.60h-1.04zM563.42 514.51h1.04v3.13h-1.04z"/>
<path fill="#4a98c9" d="M563.22 519.20h1.56v6.77h-1.56z"/>
<path fill="#2e7ebc" d="M563.22 539.52h1.56v6.25h-1.56zM572.07 477.83h1.77v1.25h-1.77z"/>
<path fill="#6baed6" d="M582.80 479.08h2.81v3.13h-2.81z"/>
<path fill="#7fb9da" d="M591.56 478.04h3.44v4.17h-3.44z"/>
<path fill="#6baed6" d="M539.25 482.21h3.33v1.67h-3.33z"/>
<path fill="#94c4df" d="M587.18 482.21h3.13v1.67h-3.13z"/>
<path fill="#a6cde4" d="M595.52 482.21h5.21v1.56h-5.21z"/>
<path fill="#0d57a1" d="M596.56 484.09h3.13v2.81h-3.13z"/>
<path fill="#6baed6" d="M543.42 486.90h3.33v1.15h-3.33z"/>
<path fill="#084a92" d="M556.96 487.42h3.33v4.17h-3.33z"/>
<path fill="#2e7ebc" d="M567.90 487.42h1.35v4.17h-1.35z"/>
<path fill="#0d57a1" d="M567.90 492.63h1.35v4.17h-1.35z"/>
<path fill="#2e7ebc" d="M573.64 486.90h3.65v1.35h-3.65z"/>
<path fill="#94c4df" d="M585.93 486.90h1.25v1.35h-1.25z"/>
<path fill="#2e7ebc" d="M589.79 488.46h2.08v2.60h-2.08z"/>
<path fill="#7fb9da" d="M587.18 491.59h3.13v1.25h-3.13z"/>
<path fill="#5ba3d0" d="M595.52 487.42h3.65v4.17h-3.65z"/>
<path fill="#6baed6" d="M595.31 491.59h1.46v1.25h-1.46z"/>
<path fill="#2171b5" d="M600.93 488.25h3.13v3.13h-3.13z"/>
<path fill="#2e7ebc" d="M608.54 497.32h1.56v3.44h-1.56z"/>
<path fill="#b6d4e9" d="M539.25 501.17h3.33v3.75h-3.33z"/>
<path fill="#084a92" d="M567.90 501.17h1.56v2.40h-1.56z"/>
<path fill="#2171b5" d="M567.90 505.13h1.56v3.13h-1.56z"/>
<path fill="#3b8bc3" d="M587.18 500.96h3.33v3.33h-3.33z"/>
<path fill="#1764ab" d="M587.18 504.30h4.38v3.75h-4.38z"/>
<path fill="#0d57a1" d="M594.99 501.17h1.35v3.75h-1.35z"/>
<path fill="#4a98c9" d="M604.06 504.92h1.04v3.13h-1.04z"/>
<path fill="#2171b5" d="M539.25 510.13h3.33v2.60h-3.33zM548.42 510.13h2.81v2.29h-2.81z"/>
<path fill="#2e7ebc" d="M546.75 512.43h1.88v1.56h-1.88z"/>
<path fill="#4a98c9" d="M576.97 509.82h1.25v2.92h-1.25z"/>
<path fill="#6baed6" d="M608.54 510.13h1.35v2.60h-1.35z"/>
<path fill="#1764ab" d="M614.06 510.13h0.94v3.86h-0.94z"/>
<path fill="#2e7ebc" d="M533.00 517.64h1.88v1.35h-1.88z"/>
<path fill="#4a98c9" d="M555.71 517.64h1.25v1.35h-1.25z"/>
<path fill="#2e7ebc" d="M567.90 517.64h1.56v1.56h-1.56zM550.92 519.20h1.88v2.08h-1.88z"/>
<path fill="#08458a" d="M594.89 509.82h1.67v36.47h-1.67z"/>
<path fill="#3b8bc3" d="M610.10 519.20h2.92v2.60h-2.92z"/>
<path fill="#1764ab" d="M539.25 522.01h3.13v6.88h-3.13z"/>
<path fill="#2171b5" d="M546.75 522.01h1.46v2.92h-1.46z"/>
<path fill="#1764ab" d="M553.01 522.01h2.92v2.92h-2.92z"/>
<path fill="#2171b5" d="M605.10 522.01h3.13v3.96h-3.13z"/>
<path fill="#1764ab" d="M543.42 525.14h3.33v3.75h-3.33z"/>
<path fill="#0d57a1" d="M560.09 524.93h4.17v1.67h-4.17z"/>
<path fill="#1764ab" d="M587.18 524.93h3.33v1.67h-3.33z"/>
<path fill="#7fb9da" d="M534.88 527.01h2.81v2.08h-2.81z"/>
<path fill="#3b8bc3" d="M564.05 527.01h3.86v2.08h-3.86z"/>
<path fill="#6baed6" d="M567.90 525.14h1.56v1.88h-1.56z"/>
<path fill="#b6d4e9" d="M568.43 527.01h3.65v2.08h-3.65z"/>
<path fill="#6baed6" d="M567.90 529.10h1.35v1.56h-1.35z"/>
<path fill="#3b8bc3" d="M598.85 527.01h2.08v2.08h-2.08z"/>
<path fill="#c6dbef" d="M587.18 529.62h3.33v1.35h-3.33z"/>
<path fill="#6baed6" d="M613.02 529.62h1.25v1.35h-1.25z"/>
<path fill="#7fb9da" d="M539.25 531.18h4.17v2.60h-4.17z"/>
<path fill="#0d57a1" d="M537.38 534.10h5.00v1.77h-5.00z"/>
<path fill="#4a98c9" d="M539.25 535.87h3.33v2.60h-3.33z"/>
<path fill="#2e7ebc" d="M560.30 530.14h3.96v3.96h-3.96z"/>
<path fill="#4a98c9" d="M560.30 535.87h3.96v2.60h-3.96z"/>
<path fill="#1764ab" d="M567.90 534.10h1.56v1.77h-1.56z"/>
<path fill="#2e7ebc" d="M567.90 538.68h1.56v1.67h-1.56z"/>
<path fill="#4a98c9" d="M567.90 543.16h1.56v1.56h-1.56z"/>
<path fill="#1764ab" d="M578.32 531.18h2.81v7.29h-2.81z"/>
<path fill="#0d57a1" d="M608.54 531.18h1.35v7.29h-1.35z"/>
<path fill="#2e7ebc" d="M609.89 538.47h2.81v1.56h-2.81z"/>
<path fill="#b6d4e9" d="M533.00 531.18h0.83v2.60h-0.83z"/>
<path fill="#94c4df" d="M533.00 536.39h0.83v2.08h-0.83z"/>
<path fill="#2171b5" d="M539.25 540.35h3.33v3.13h-3.33z"/>
<path fill="#5ba3d0" d="M550.92 543.16h1.88v1.56h-1.88zM560.30 543.16h2.92v1.56h-2.92zM587.18 543.16h3.33v1.56h-3.33z"/>
<path fill="#4a98c9" d="M610.10 543.16h2.92v1.56h-2.92z"/>
<path fill="#0d57a1" d="M581.14 544.73h1.88v1.56h-1.88z"/>
<path fill="#4a98c9" d="M617.60 478.04h4.17v3.96h-4.17z"/>
<path fill="#3b8bc3" d="M642.92 478.04h1.77v3.96h-1.77z"/>
<path fill="#a6cde4" d="M647.30 478.04h1.56v3.96h-1.56z"/>
<path fill="#2e7ebc" d="M662.41 478.04h3.44v4.17h-3.44z"/>
<path fill="#1764ab" d="M660.84 482.21h2.08v1.56h-2.08z"/>
<path fill="#2e7ebc" d="M665.01 482.21h1.88v1.56h-1.88z"/>
<path fill="#084a92" d="M653.03 482.21h3.65v1.56h-3.65zM681.68 482.21h2.08v1.56h-2.08z"/>
<path fill="#5ba3d0" d="M691.06 478.04h1.56v3.96h-1.56z"/>
<path fill="#2e7ebc" d="M629.59 484.09h1.56v2.81h-1.56z"/>
<path fill="#6baed6" d="M626.25 486.90h3.33v1.35h-3.33zM631.67 486.90h7.09v1.35h-7.09zM667.10 486.90h2.60v1.15h-2.60z"/>
<path fill="#b6d4e9" d="M674.18 486.90h3.54v1.15h-3.54z"/>
<path fill="#0d57a1" d="M662.41 488.25h3.44v3.33h-3.44z"/>
<path fill="#5ba3d0" d="M683.25 488.25h3.65v3.33h-3.65z"/>
<path fill="#6baed6" d="M686.37 486.90h1.35v1.56h-1.35z"/>
<path fill="#4a98c9" d="M651.99 497.32h1.35v3.44h-1.35zM682.20 497.32h1.35v3.44h-1.35zM686.68 500.76h1.25v2.81h-1.25z"/>
<path fill="#6baed6" d="M635.32 500.96h3.44v3.96h-3.44z"/>
<path fill="#084a92" d="M615.00 510.13h2.29v3.65h-2.29z"/>
<path fill="#083d7f" d="M639.80 510.13h3.33v2.60h-3.33z"/>
<path fill="#1764ab" d="M686.68 510.13h1.25v2.60h-1.25z"/>
<path fill="#083d7f" d="M621.77 514.51h3.44v3.13h-3.44z"/>
<path fill="#6baed6" d="M667.10 514.51h2.92v2.92h-2.92z"/>
<path fill="#5ba3d0" d="M674.18 514.51h4.90v3.65h-4.90z"/>
<path fill="#94c4df" d="M673.35 518.16h2.08v3.13h-2.08z"/>
<path fill="#0d57a1" d="M681.89 514.51h1.88v2.92h-1.88z"/>
<path fill="#5ba3d0" d="M692.62 514.51h3.13v2.92h-3.13z"/>
<path fill="#4a98c9" d="M640.01 517.64h3.13v1.35h-3.13z"/>
<path fill="#6baed6" d="M681.68 519.20h2.08v2.60h-2.08z"/>
<path fill="#7fb9da" d="M679.08 521.80h2.81v3.13h-2.81z"/>
<path fill="#5ba3d0" d="M683.77 521.80h3.13v3.13h-3.13z"/>
<path fill="#2e7ebc" d="M639.80 522.01h3.33v3.96h-3.33z"/>
<path fill="#0d57a1" d="M638.44 526.80h2.08v2.29h-2.08z"/>
<path fill="#6baed6" d="M644.17 526.80h3.13v2.50h-3.13z"/>
<path fill="#2e7ebc" d="M667.10 524.93h3.13v1.67h-3.13z"/>
<path fill="#3b8bc3" d="M674.18 526.80h3.54v2.29h-3.54z"/>
<path fill="#4a98c9" d="M686.68 524.93h1.25v4.17h-1.25z"/>
<path fill="#7fb9da" d="M617.60 531.18h2.40v2.92h-2.40z"/>
<path fill="#2171b5" d="M639.80 529.62h3.33v8.86h-3.33z"/>
<path fill="#6baed6" d="M651.99 529.62h1.15v4.48h-1.15z"/>
<path fill="#2e7ebc" d="M656.47 534.10h1.46v4.38h-1.46z"/>
<path fill="#3b8bc3" d="M667.10 531.18h2.92v4.69h-2.92z"/>
<path fill="#4a98c9" d="M670.01 535.87h2.81v2.60h-2.81z"/>
<path fill="#6baed6" d="M674.18 531.18h3.54v4.69h-3.54z"/>
<path fill="#2e7ebc" d="M674.18 538.68h3.54v1.46h-3.54z"/>
<path fill="#1764ab" d="M682.20 534.10h1.56v4.38h-1.56z"/>
<path fill="#94c4df" d="M686.89 531.18h1.04v2.60h-1.04z"/>
<path fill="#1764ab" d="M686.68 538.47h1.25v7.81h-1.25z"/>
<path fill="#6baed6" d="M692.62 531.18h3.13v2.92h-3.13z"/>
<path fill="#b6d4e9" d="M695.23 534.83h1.77v3.65h-1.77z"/>
<path fill="#1764ab" d="M674.18 543.16h3.54v3.13h-3.54z"/>
<path fill="#0d57a1" d="M639.80 544.73h3.33v1.56h-3.33z"/>
<path fill="#2171b5" d="M658.24 544.73h2.60v1.56h-2.60z"/>
<path fill="#94c4df" d="M706.17 479.29h2.50v2.92h-2.50z"/>
<path fill="#2e7ebc" d="M715.23 477.83h2.08v1.25h-2.08z"/>
<path fill="#2171b5" d="M717.84 478.04h1.88v5.73h-1.88z"/>
<path fill="#3b8bc3" d="M710.55 482.21h3.13v1.56h-3.13z"/>
<path fill="#6baed6" d="M734.72 478.04h1.04v3.65h-1.04z"/>
<path fill="#2e7ebc" d="M731.90 482.00h3.13v1.67h-3.13z"/>
<path fill="#94c4df" d="M748.05 482.21h1.56v1.56h-1.56z"/>
<path fill="#a6cde4" d="M766.29 479.29h1.56v2.71h-1.56z"/>
<path fill="#2e7ebc" d="M772.23 479.29h3.13v2.92h-3.13z"/>
<path fill="#0d57a1" d="M740.76 484.09h3.13v3.33h-3.13z"/>
<path fill="#4a98c9" d="M739.51 487.21h5.42v1.04h-5.42zM719.71 486.90h4.17v1.35h-4.17z"/>
<path fill="#b6d4e9" d="M730.13 486.90h1.46v1.35h-1.46z"/>
<path fill="#3b8bc3" d="M706.17 488.25h2.81v3.33h-2.81z"/>
<path fill="#4a98c9" d="M710.55 487.42h3.33v4.17h-3.33z"/>
<path fill="#3b8bc3" d="M757.22 487.42h1.77v4.17h-1.77z"/>
<path fill="#4a98c9" d="M701.17 495.96h3.33v1.35h-3.33zM710.55 495.96h3.13v1.35h-3.13z"/>
<path fill="#7fb9da" d="M701.17 500.96h3.65v2.60h-3.65z"/>
<path fill="#2e7ebc" d="M736.07 497.32h3.13v7.61h-3.13z"/>
<path fill="#4a98c9" d="M766.29 500.96h1.56v2.60h-1.56z"/>
<path fill="#b6d4e9" d="M772.23 500.96h2.92v2.29h-2.92z"/>
<path fill="#2e7ebc" d="M706.17 510.13h2.81v2.81h-2.81z"/>
<path fill="#084a92" d="M710.75 510.13h3.13v9.06h-3.13z"/>
<path fill="#94c4df" d="M717.84 510.13h1.88v2.60h-1.88z"/>
<path fill="#084a92" d="M717.84 514.51h1.88v2.92h-1.88z"/>
<path fill="#3b8bc3" d="M740.97 510.13h2.40v7.29h-2.40z"/>
<path fill="#1764ab" d="M763.16 510.13h2.60v2.60h-2.60z"/>
<path fill="#2e7ebc" d="M701.17 514.51h3.33v2.92h-3.33z"/>
<path fill="#5ba3d0" d="M706.17 514.51h2.81v2.92h-2.81z"/>
<path fill="#4a98c9" d="M749.10 514.51h3.65v2.92h-3.65z"/>
<path fill="#0d57a1" d="M761.81 514.51h1.25v2.92h-1.25z"/>
<path fill="#5ba3d0" d="M727.22 517.64h2.92v1.35h-2.92z"/>
<path fill="#4a98c9" d="M706.17 519.20h2.81v2.60h-2.81zM776.71 518.68h1.04v3.13h-1.04z"/>
<path fill="#2e7ebc" d="M701.17 522.01h4.69v2.92h-4.69z"/>
<path fill="#0d57a1" d="M710.75 522.01h3.13v12.09h-3.13z"/>
<path fill="#3b8bc3" d="M724.30 522.01h2.92v2.92h-2.92z"/>
<path fill="#083d7f" d="M724.09 526.80h3.13v2.50h-3.13z"/>
<path fill="#a6cde4" d="M754.51 522.01h2.40v2.92h-2.40z"/>
<path fill="#1764ab" d="M756.91 522.01h5.21v2.92h-5.21zM757.22 527.01h4.90v2.08h-4.90z"/>
<path fill="#0d57a1" d="M757.22 529.10h2.08v7.29h-2.08z"/>
<path fill="#084a92" d="M757.22 535.87h4.90v2.60h-4.90z"/>
<path fill="#d0e1f2" d="M700.13 526.80h1.25v2.29h-1.25z"/>
<path fill="#94c4df" d="M697.00 531.18h3.13v2.60h-3.13z"/>
<path fill="#6baed6" d="M706.17 529.62h2.81v4.48h-2.81z"/>
<path fill="#b6d4e9" d="M748.05 531.18h1.56v2.92h-1.56z"/>
<path fill="#6baed6" d="M772.23 531.18h3.13v2.60h-3.13z"/>
<path fill="#2e7ebc" d="M770.98 534.10h2.08v1.77h-2.08zM772.85 535.87h3.33v2.08h-3.33z"/>
<path fill="#94c4df" d="M775.35 535.87h2.08v4.69h-2.08z"/>
<path fill="#2171b5" d="M717.84 534.10h1.88v4.38h-1.88z"/>
<path fill="#083d7f" d="M731.90 534.10h3.13v4.38h-3.13z"/>
<path fill="#084a92" d="M745.14 534.10h3.13v4.38h-3.13z"/>
<path fill="#2171b5" d="M701.17 538.68h3.33v4.48h-3.33z"/>
<path fill="#1764ab" d="M710.55 539.52h3.13v4.17h-3.13z"/>
<path fill="#2e7ebc" d="M713.15 538.68h1.56v1.67h-1.56z"/>
<path fill="#b6d4e9" d="M740.76 543.16h2.60v1.35h-2.60z"/>
<path fill="#6baed6" d="M749.10 543.16h3.65v1.56h-3.65z"/>
<path fill="#b6d4e9" d="M757.22 543.16h1.46v1.35h-1.46z"/>
<path fill="#084a92" d="M701.17 544.73h3.65v1.56h-3.65z"/>
<path fill="#1764ab" d="M717.84 544.73h1.88v1.56h-1.88z"/>
<path fill="#2171b5" d="M727.22 544.73h2.92v1.56h-2.92z"/>
</g>
<rect x="450.9" y="476.9" width="327.40" height="70.10" fill="none" stroke="#262626" stroke-width="2.15"/>
<g opacity="0.999">
<text x="133.2" y="89.5" font-size="18.0" text-anchor="start">Pollination <tspan font-family="Liberation Serif, serif" font-size="19.08" letter-spacing="0.1">(<tspan font-style="italic">ρ</tspan><tspan dx="2.0" textLength="14.42" lengthAdjust="spacingAndGlyphs">=</tspan><tspan dx="0.5">0.0215)</tspan></tspan></text>
<text x="50.4" y="102.32" font-size="15.0" text-anchor="end">0</text>
<text x="50.4" y="122.89399999999999" font-size="15.0" text-anchor="end">20</text>
<text x="50.4" y="143.468" font-size="15.0" text-anchor="end">40</text>
<text x="50.4" y="164.04199999999997" font-size="15.0" text-anchor="end">60</text>
<text x="50.4" y="184.61599999999999" font-size="15.0" text-anchor="end">80</text>
<text x="50.4" y="205.19" font-size="15.0" text-anchor="end">100</text>
<text x="59.71835" y="236.0" font-size="15.0" text-anchor="middle">0</text>
<text x="111.55335" y="236.0" font-size="15.0" text-anchor="middle">50</text>
<text x="163.38835" y="236.0" font-size="15.0" text-anchor="middle">100</text>
<text x="215.22334999999998" y="236.0" font-size="15.0" text-anchor="middle">150</text>
<text x="267.05835" y="236.0" font-size="15.0" text-anchor="middle">200</text>
<text x="318.89335" y="236.0" font-size="15.0" text-anchor="middle">250</text>
<text x="370.72835" y="236.0" font-size="15.0" text-anchor="middle">300</text>
<text x="223" y="257.6" font-size="16.5" text-anchor="middle">Pollinators</text>
<text x="15.3" y="155.5" font-size="16.5" text-anchor="middle" transform="rotate(-90 15.3 155.5)">Plants</text>
<text x="534.6" y="16.0" font-size="18.0" text-anchor="start">Plant-ant <tspan font-family="Liberation Serif, serif" font-size="19.08" letter-spacing="-0.07">(<tspan font-style="italic">ρ</tspan><tspan dx="2.0" textLength="14.42" lengthAdjust="spacingAndGlyphs">=</tspan><tspan dx="0.5">0.136)</tspan></tspan></text>
<text x="442.0" y="31.25" font-size="15.0" text-anchor="end">0</text>
<text x="442.0" y="95.525" font-size="15.0" text-anchor="end">10</text>
<text x="442.0" y="159.8" font-size="15.0" text-anchor="end">20</text>
<text x="442.0" y="224.07500000000002" font-size="15.0" text-anchor="end">30</text>
<text x="442.0" y="288.35" font-size="15.0" text-anchor="end">40</text>
<text x="454.38" y="308.4" font-size="15.0" text-anchor="middle">0</text>
<text x="518.75" y="308.4" font-size="15.0" text-anchor="middle">10</text>
<text x="583.12" y="308.4" font-size="15.0" text-anchor="middle">20</text>
<text x="647.49" y="308.4" font-size="15.0" text-anchor="middle">30</text>
<text x="711.86" y="308.4" font-size="15.0" text-anchor="middle">40</text>
<text x="776.23" y="308.4" font-size="15.0" text-anchor="middle">50</text>
<text x="615.0" y="331.0" font-size="16.5" text-anchor="middle">Ants</text>
<text x="413.3" y="155.5" font-size="16.5" text-anchor="middle" transform="rotate(-90 413.3 155.5)">Plants</text>
<text x="128.7" y="338.5" font-size="18.0" text-anchor="start">Predator-prey <tspan font-family="Liberation Serif, serif" font-size="19.08" letter-spacing="0.25">(<tspan font-style="italic">ρ</tspan><tspan dx="2.0" textLength="14.42" lengthAdjust="spacingAndGlyphs">=</tspan><tspan dx="0.5">0.14)</tspan></tspan></text>
<text x="50.4" y="352.88" font-size="15.0" text-anchor="end">0</text>
<text x="50.4" y="404.22" font-size="15.0" text-anchor="end">20</text>
<text x="50.4" y="455.55" font-size="15.0" text-anchor="end">40</text>
<text x="50.4" y="506.89" font-size="15.0" text-anchor="end">60</text>
<text x="50.4" y="558.22" font-size="15.0" text-anchor="end">80</text>
<text x="50.4" y="609.56" font-size="15.0" text-anchor="end">100</text>
<text x="50.4" y="660.9" font-size="15.0" text-anchor="end">120</text>
<text x="60.88" y="696.6" font-size="15.0" text-anchor="middle">0</text>
<text x="112.27" y="696.6" font-size="15.0" text-anchor="middle">20</text>
<text x="163.66" y="696.6" font-size="15.0" text-anchor="middle">40</text>
<text x="215.04" y="696.6" font-size="15.0" text-anchor="middle">60</text>
<text x="266.43" y="696.6" font-size="15.0" text-anchor="middle">80</text>
<text x="317.82" y="696.6" font-size="15.0" text-anchor="middle">100</text>
<text x="369.21" y="696.6" font-size="15.0" text-anchor="middle">120</text>
<text x="224" y="719.9" font-size="16.5" text-anchor="middle">Preys</text>
<text x="14.9" y="511.3" font-size="16.5" text-anchor="middle" transform="rotate(-90 14.9 511.3)">Predators</text>
<text x="516.7" y="468.5" font-size="18.0" text-anchor="start">Host-parasite <tspan font-family="Liberation Serif, serif" font-size="19.08" letter-spacing="0.1">(<tspan font-style="italic">ρ</tspan><tspan dx="2.0" textLength="14.42" lengthAdjust="spacingAndGlyphs">=</tspan><tspan dx="0.5">0.086)</tspan></tspan></text>
<text x="442.0" y="481.45" font-size="15.0" text-anchor="end">0</text>
<text x="442.0" y="492.76" font-size="15.0" text-anchor="end">5</text>
<text x="442.0" y="504.07" font-size="15.0" text-anchor="end">10</text>
<text x="442.0" y="515.38" font-size="15.0" text-anchor="end">15</text>
<text x="442.0" y="526.69" font-size="15.0" text-anchor="end">20</text>
<text x="442.0" y="538.0" font-size="15.0" text-anchor="end">25</text>
<text x="442.0" y="549.31" font-size="15.0" text-anchor="end">30</text>
<text x="452.89" y="568.4" font-size="15.0" text-anchor="middle">0</text>
<text x="498.41" y="568.4" font-size="15.0" text-anchor="middle">20</text>
<text x="543.93" y="568.4" font-size="15.0" text-anchor="middle">40</text>
<text x="589.45" y="568.4" font-size="15.0" text-anchor="middle">60</text>
<text x="634.97" y="568.4" font-size="15.0" text-anchor="middle">80</text>
<text x="680.5" y="568.4" font-size="15.0" text-anchor="middle">100</text>
<text x="726.02" y="568.4" font-size="15.0" text-anchor="middle">120</text>
<text x="771.54" y="568.4" font-size="15.0" text-anchor="middle">140</text>
<text x="614.5" y="590.4" font-size="16.5" text-anchor="middle">Parasites</text>
<text x="413.7" y="510.9" font-size="16.5" text-anchor="middle" transform="rotate(-90 413.7 510.9)">Hosts</text>
</g>
</svg>
</body></html>
